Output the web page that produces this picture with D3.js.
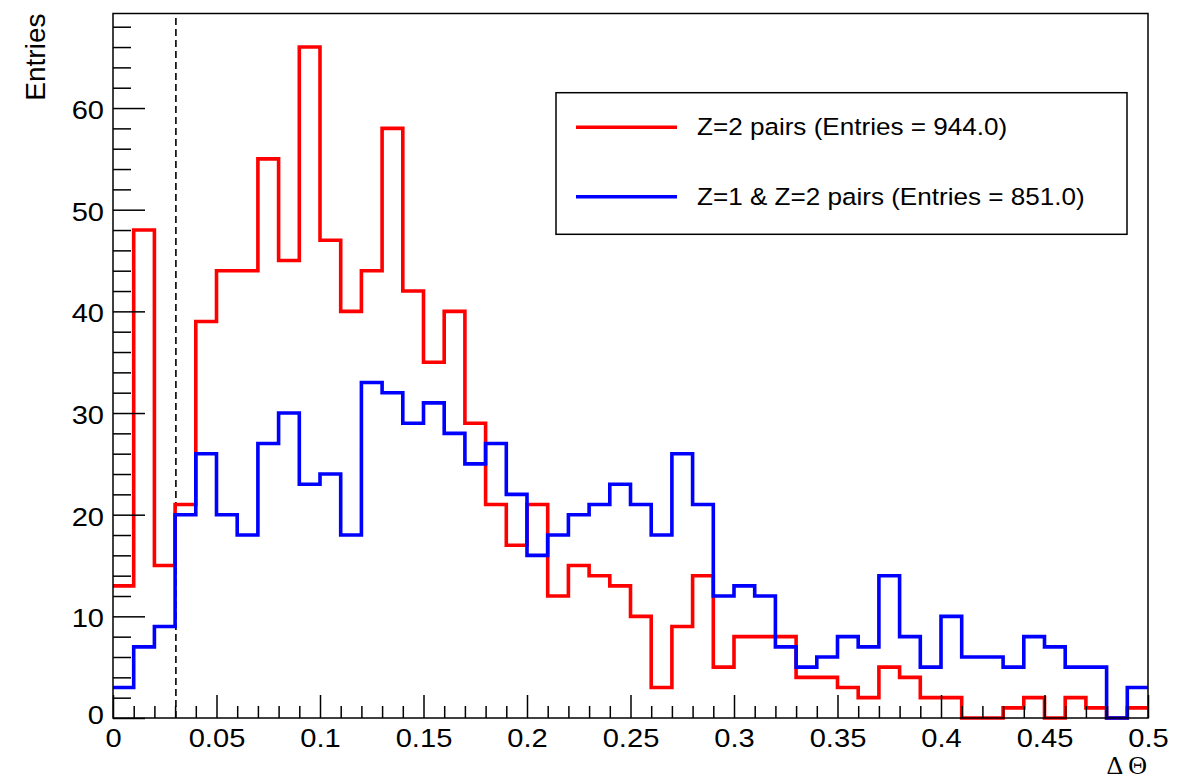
<!DOCTYPE html>
<html>
<head>
<meta charset="utf-8">
<script src="https://cdn.jsdelivr.net/npm/d3@7"></script>
<style>
  html, body { margin: 0; padding: 0; background: #fff; }
  svg { display: block; }
</style>
</head>
<body>
<svg id="chart" width="1193" height="780"></svg>
<script>
// Histogram binning of the opening angle: 50 bins of width 0.01 on [0, 0.5]
const xMin = 0, xMax = 0.5, binWidth = 0.01;
const binLowEdges = d3.range(50).map(i => +(xMin + i * binWidth).toFixed(2));

// Bin contents, Z=2 pairs
const z2Counts = [
  13, 48, 15, 21, 39, 44, 44, 55, 45, 66,
  47, 40, 44, 58, 42, 35, 40, 29, 21, 17,
  21, 12, 15, 14, 13, 10, 3, 9, 14, 5,
  8, 8, 8, 4, 4, 3, 2, 5, 4, 2,
  2, 0, 0, 1, 2, 0, 2, 1, 0, 1
];
// Bin contents, Z=1 & Z=2 pairs
const z12Counts = [
  3, 7, 9, 20, 26, 20, 18, 27, 30, 23,
  24, 18, 33, 32, 29, 31, 28, 25, 27, 22,
  16, 18, 20, 21, 23, 21, 18, 26, 21, 12,
  13, 12, 7, 5, 6, 8, 7, 14, 8, 5,
  10, 6, 6, 5, 8, 7, 5, 5, 0, 3
];

const seriesNames = ["Z=2 pairs (Entries = 944.0)", "Z=1 & Z=2 pairs (Entries = 851.0)"];
const seriesColors = ["#ff0000", "#0000ff"];

const xTickValues = [0, 0.05, 0.1, 0.15, 0.2, 0.25, 0.3, 0.35, 0.4, 0.45, 0.5];
const xTickLabels = ["0", "0.05", "0.1", "0.15", "0.2", "0.25", "0.3", "0.35", "0.4", "0.45", "0.5"];
const yTickValues = [0, 10, 20, 30, 40, 50, 60];
const yMinorValues = d3.range(0, 70, 2).filter(v => v % 10 !== 0);
const xMinorValues = d3.range(0, 51).map(i => i / 100).filter(v => Math.round(v * 100) % 5 !== 0);

const cutValue = 0.03;      // selection cut marked by the dashed line
const yMax = 66 * 1.05;     // histogram maximum plus 5% headroom

const svg = d3.select("#chart");
const plotLeft = 113, plotRight = 1148, plotTop = 13.5, plotBottom = 718;

const x = d3.scaleLinear().domain([xMin, xMax]).range([plotLeft, plotRight]);
const y = d3.scaleLinear().domain([0, yMax]).range([plotBottom, plotTop]);

const FONT = "'Liberation Sans', Arial, Helvetica, sans-serif";

// Histogram outlines (step style)
function stepPoints(counts) {
  const pts = counts.map((v, i) => ({ x: binLowEdges[i], v }));
  pts.push({ x: xMax, v: counts[counts.length - 1] });
  return pts;
}
const stepLine = d3.line()
  .x(d => x(d.x))
  .y(d => y(d.v))
  .curve(d3.curveStepAfter);

// Dashed cut line
svg.append("line")
  .attr("x1", x(cutValue) + 0.8).attr("x2", x(cutValue) + 0.8)
  .attr("y1", y(0)).attr("y2", y(yMax))
  .attr("stroke", "#000").attr("stroke-width", 1.6)
  .attr("stroke-dasharray", "7,4");

[z2Counts, z12Counts].forEach((counts, k) => {
  svg.append("path")
    .datum(stepPoints(counts))
    .attr("d", stepLine)
    .attr("fill", "none")
    .attr("stroke", seriesColors[k])
    .attr("stroke-width", 3.6)
    .attr("stroke-linejoin", "miter");
});

// Axes: ticks point into the frame
const yMajor = svg.append("g").attr("transform", `translate(${plotLeft},0)`)
  .call(d3.axisLeft(y).tickValues(yTickValues).tickSize(-32).tickSizeOuter(0).tickPadding(8).tickFormat(d3.format("d")));
svg.append("g").attr("transform", `translate(${plotLeft},0)`)
  .call(d3.axisLeft(y).tickValues(yMinorValues).tickSize(-18).tickSizeOuter(0).tickFormat(""));

const xMajor = svg.append("g").attr("transform", `translate(0,${plotBottom})`)
  .call(d3.axisBottom(x).tickValues(xTickValues).tickSize(-23).tickSizeOuter(0).tickPadding(11)
    .tickFormat((d, i) => xTickLabels[i]));
svg.append("g").attr("transform", `translate(0,${plotBottom})`)
  .call(d3.axisBottom(x).tickValues(xMinorValues).tickSize(-12).tickSizeOuter(0).tickFormat(""));

svg.selectAll(".domain").remove();
svg.selectAll(".tick line").attr("stroke", "#000").attr("stroke-width", 1.5);

yMajor.selectAll(".tick text")
  .attr("font-family", FONT).attr("font-size", 26).attr("fill", "#000")
  .attr("dy", d => d === 0 ? "0.22em" : "0.4em")
  .attr("transform", "scale(1.12,1)");
xMajor.selectAll(".tick text")
  .attr("font-family", FONT).attr("font-size", 26).attr("fill", "#000")
  .attr("dy", "0.71em")
  .attr("transform", "scale(1.12,1)");

// Frame
svg.append("rect")
  .attr("x", plotLeft).attr("y", plotTop)
  .attr("width", plotRight - plotLeft).attr("height", plotBottom - plotTop)
  .attr("fill", "none").attr("stroke", "#000").attr("stroke-width", 1.5);

// Axis titles
svg.append("text")
  .attr("transform", `translate(45,${plotTop}) rotate(-90)`)
  .attr("text-anchor", "end")
  .attr("font-family", FONT).attr("font-size", 28).attr("fill", "#000")
  .text("Entries");

svg.append("text")
  .attr("x", 1147).attr("y", 774)
  .attr("text-anchor", "end")
  .attr("font-family", "'Liberation Serif', 'Times New Roman', serif")
  .attr("font-size", 26).attr("fill", "#000")
  .text("Δ Θ");

// Legend
const legend = svg.append("g");
legend.append("rect")
  .attr("x", 556).attr("y", 92.7)
  .attr("width", 1127 - 556).attr("height", 234.3 - 92.7)
  .attr("fill", "#fff").attr("stroke", "#000").attr("stroke-width", 1.5);

const legendRows = [127.3, 196.7];
seriesNames.forEach((name, k) => {
  legend.append("line")
    .attr("x1", 576).attr("x2", 677)
    .attr("y1", legendRows[k]).attr("y2", legendRows[k])
    .attr("stroke", seriesColors[k]).attr("stroke-width", 3.6);
  legend.append("text")
    .attr("transform", `translate(697,${legendRows[k] + 8}) scale(1.11,1)`)
    .attr("font-family", FONT).attr("font-size", 23.5).attr("fill", "#000")
    .text(name);
});
</script>
</body>
</html>
